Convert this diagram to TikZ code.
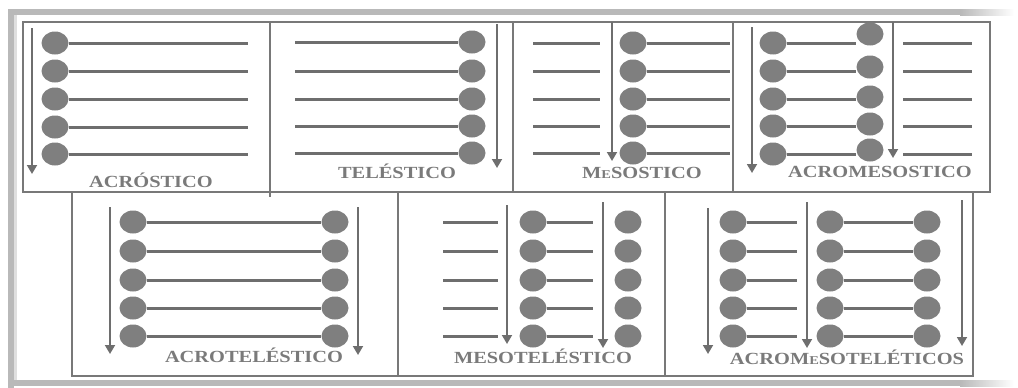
\documentclass[tikz,border=0pt]{standalone}
\usepackage{fontspec}
\setmainfont{Liberation Serif}
\usetikzlibrary{arrows.meta,shapes.geometric}
\definecolor{dotc}{HTML}{7F7F7F}
\definecolor{linec}{HTML}{6E6E6E}
\definecolor{boxc}{HTML}{787878}
\definecolor{txtc}{HTML}{7A7A7A}
\tikzset{
  dot/.style={ellipse,fill=dotc,inner sep=0pt,minimum width=27pt,minimum height=23pt},
  row/.style={draw=linec,line width=3pt},
  arr/.style={draw=linec,line width=1.8pt,-{Triangle[width=10pt,length=9pt]}},
  panel/.style={draw=boxc,line width=2.5pt},
  lbl/.style={text=txtc,font=\fontsize{17}{19}\selectfont\bfseries,xscale=1.2,inner sep=0pt}
}
\newcommand{\smE}{{\fontsize{12}{13}\selectfont E}}
\begin{document}
\begin{tikzpicture}[x=1pt,y=-1pt]
\useasboundingbox (0,0) rectangle (1018,388);
% outer shadow frame
\fill[gray!55] (8,9) rectangle (960,15);
\shade[left color=gray!55,right color=white] (960,9) rectangle (1014,15);
\fill[gray!55] (8,9) rectangle (14,388);
\fill[gray!25] (14,15) rectangle (17,384);
\fill[gray!55] (8,380) rectangle (960,386);
\shade[left color=gray!55,right color=white] (960,380) rectangle (1014,386);
% panels
\draw[panel] (23,22) rectangle (990,192);
\draw[panel] (270,22) -- (270,197);
\draw[panel] (513,22) -- (513,192);
\draw[panel] (733,22) -- (733,192);
\draw[panel] (72,192) rectangle (973,376);
\draw[panel] (398,192) -- (398,376);
\draw[panel] (665,192) -- (665,376);

% ---------- ACROSTICO
\foreach \i/\y in {1/43,2/71,3/99,4/127,5/154}{
  \node[dot] (pa\i) at (55,\y) {};
  \coordinate (pae\i) at (248,\y);
  \draw[row] (pa\i) -- (pae\i);
}
\coordinate (pat) at (32,28); \coordinate (pab) at (32,174);
\draw[arr] (pat) -- (pab);
\node[lbl] (la) at (151,180) {ACRÓSTICO};

% ---------- TELESTICO
\foreach \i/\y in {1/42,2/71,3/99,4/126,5/153}{
  \node[dot] (pb\i) at (472,\y) {};
  \coordinate (pbs\i) at (295,\y);
  \draw[row] (pbs\i) -- (pb\i);
}
\coordinate (pbt) at (497,24); \coordinate (pbb) at (497,168);
\draw[arr] (pbt) -- (pbb);
\node[lbl] (lb) at (397,171) {TELÉSTICO};

% ---------- MESOSTICO
\foreach \i/\y in {1/43,2/71,3/99,4/126,5/153}{
  \coordinate (pcs\i) at (533,\y); \coordinate (pcm\i) at (600,\y);
  \draw[row] (pcs\i) -- (pcm\i);
  \node[dot] (pc\i) at (633,\y) {};
  \coordinate (pce\i) at (730,\y);
  \draw[row] (pc\i) -- (pce\i);
}
\coordinate (pct) at (612,22); \coordinate (pcb) at (612,161);
\draw[arr] (pct) -- (pcb);
\node[lbl] (lc) at (642,173) {M\smE SOSTICO};

% ---------- ACROMESOSTICO
\foreach \i/\y/\z in {1/43/34,2/71/67,3/99/97,4/126/124,5/154/150}{
  \node[dot] (pd\i) at (773,\y) {};
  \node[dot] (pdr\i) at (870,\z) {};
  \draw[row] (pd\i.east) -- (pd\i.east -| pdr\i.west);
  \coordinate (pds\i) at (903,\y); \coordinate (pde\i) at (972,\y);
  \draw[row] (pds\i) -- (pde\i);
}
\coordinate (pdt) at (752,27); \coordinate (pdb) at (752,173);
\draw[arr] (pdt) -- (pdb);
\coordinate (pdt2) at (893,22); \coordinate (pdb2) at (893,158);
\draw[arr] (pdt2) -- (pdb2);
\node[lbl] (ld) at (880,172) {ACROMESOSTICO};

% ---------- ACROTELESTICO
\foreach \i/\y in {1/222,2/251,3/280,4/308,5/336}{
  \node[dot] (pe\i) at (133,\y) {};
  \node[dot] (per\i) at (335,\y) {};
  \draw[row] (pe\i) -- (per\i);
}
\coordinate (pet) at (110,207); \coordinate (peb) at (110,354);
\draw[arr] (pet) -- (peb);
\coordinate (pet2) at (358,207); \coordinate (peb2) at (358,355);
\draw[arr] (pet2) -- (peb2);
\node[lbl] (le) at (254,355) {ACROTELÉSTICO};

% ---------- MESOTELESTICO
\foreach \i/\y in {1/222,2/251,3/280,4/308,5/336}{
  \coordinate (pfs\i) at (443,\y); \coordinate (pfm\i) at (498,\y);
  \draw[row] (pfs\i) -- (pfm\i);
  \node[dot] (pf\i) at (533,\y) {};
  \coordinate (pfe\i) at (593,\y);
  \draw[row] (pf\i) -- (pfe\i);
  \node[dot] (pfr\i) at (628,\y) {};
}
\coordinate (pft) at (507,205); \coordinate (pfb) at (507,344);
\draw[arr] (pft) -- (pfb);
\coordinate (pft2) at (603,202); \coordinate (pfb2) at (603,348);
\draw[arr] (pft2) -- (pfb2);
\node[lbl] (lf) at (543,356) {MESOTELÉSTICO};

% ---------- ACROMESOTELETICOS
\foreach \i/\y in {1/222,2/251,3/280,4/308,5/336}{
  \node[dot] (pg\i) at (733,\y) {};
  \coordinate (pge\i) at (797,\y);
  \draw[row] (pg\i) -- (pge\i);
  \node[dot] (pgm\i) at (830,\y) {};
  \node[dot] (pgr\i) at (927,\y) {};
  \draw[row] (pgm\i) -- (pgr\i);
}
\coordinate (pgt) at (708,208); \coordinate (pgb) at (708,354);
\draw[arr] (pgt) -- (pgb);
\coordinate (pgt2) at (807,202); \coordinate (pgb2) at (807,348);
\draw[arr] (pgt2) -- (pgb2);
\coordinate (pgt3) at (962,200); \coordinate (pgb3) at (962,346);
\draw[arr] (pgt3) -- (pgb3);
\node[lbl] (lg) at (847,357) {ACROM\smE SOTELÉTICOS};
\end{tikzpicture}
\end{document}
